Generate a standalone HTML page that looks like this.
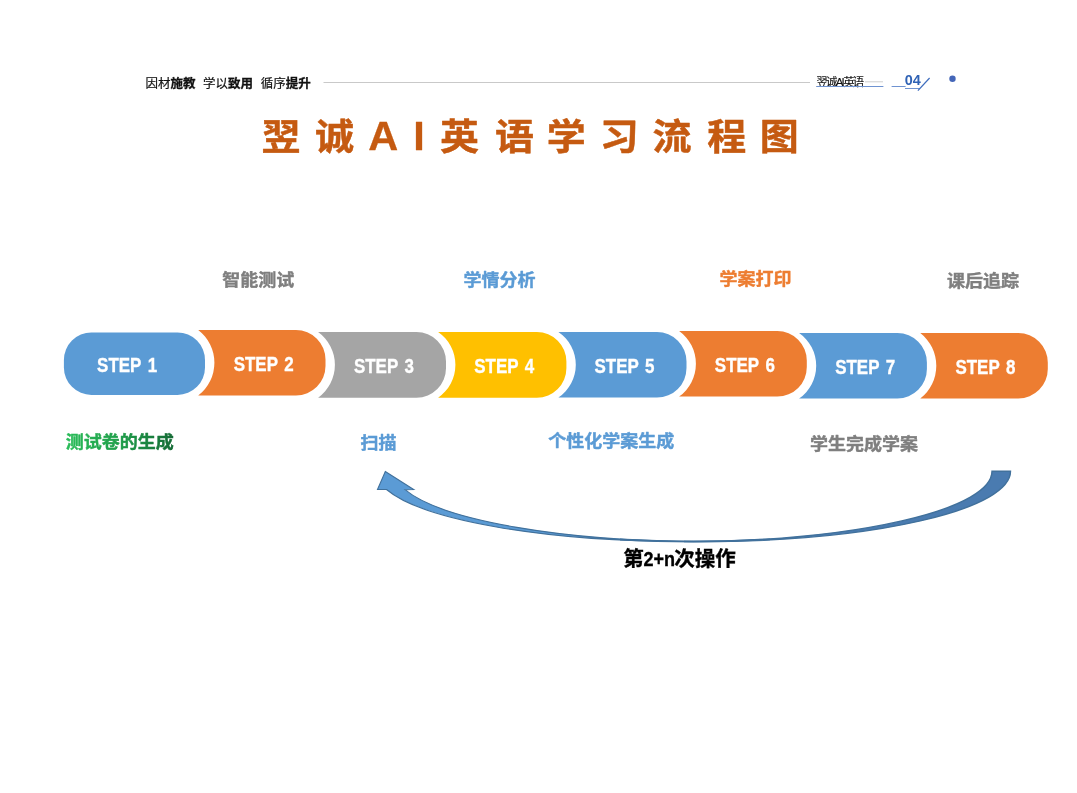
<!DOCTYPE html>
<html lang="zh-CN">
<head>
<meta charset="utf-8">
<title>翌诚AI英语学习流程图</title>
<style>
  html, body { margin: 0; padding: 0; background: #ffffff; }
  body { width: 1077px; height: 793px; overflow: hidden; position: relative;
         font-family: "Liberation Sans", "Noto Sans CJK SC", sans-serif; }
  svg { position: absolute; left: 0; top: 0; display: block; will-change: transform; }
  text { font-family: "Liberation Sans", "Noto Sans CJK SC", sans-serif; }
  .cjk { font-family: "Liberation Sans", "Noto Sans CJK SC", sans-serif; }
  .b { font-weight: 700; }
  .step { font-weight: 700; font-size: 20.2px; fill: #ffffff; word-spacing: 2.2px; }
  .lab { font-weight: 700; font-size: 18px; stroke-width: 0.45px; stroke-linejoin: round; }
</style>
</head>
<body>
<svg width="1077" height="793" viewBox="0 0 1077 793">
  <defs>
    <linearGradient id="gGreen" x1="0" y1="0" x2="1" y2="0">
      <stop offset="0" stop-color="#2bbd5a"/>
      <stop offset="0.5" stop-color="#1f9e4a"/>
      <stop offset="1" stop-color="#156b36"/>
    </linearGradient>
  </defs>

  <!-- header -->
  <text y="88.1" font-size="12.5" fill="#111111" stroke="#111111" stroke-width="0.2"><tspan x="145.6">因材</tspan><tspan class="b" stroke-width="0.3">施教</tspan> <tspan x="202.9">学以</tspan><tspan class="b" stroke-width="0.3">致用</tspan> <tspan x="260.8">循序</tspan><tspan class="b" stroke-width="0.3">提升</tspan></text>
  <rect x="323.5" y="82" width="486.5" height="1" fill="#c9c9c9"/>
  <text x="816.2" y="85.6" font-size="11.4" fill="#111111" stroke="#111111" stroke-width="0.15" letter-spacing="-1.65">翌诚AI英语</text>
  <rect x="865" y="81.3" width="18" height="1" fill="#cfcfcf"/>
  <rect x="816.4" y="86" width="67" height="1" fill="#6f93d1"/>
  <rect x="891.6" y="86" width="14" height="1" fill="#6f93d1"/>
  <text x="904.8" y="85.1" font-size="14.4" font-weight="700" fill="#2f62b5">04</text>
  <rect x="905" y="88" width="15" height="1" fill="#6f93d1"/>
  <line x1="917.9" y1="90.6" x2="929.6" y2="78" stroke="#3f6dbd" stroke-width="1.25"/>
  <circle cx="952.5" cy="78.7" r="3.2" fill="#4466b8"/>

  <!-- title -->
  <text transform="translate(0 150.2) scale(1 0.94)" y="0" font-size="39" font-weight="700" fill="#c55a11" stroke="#c55a11" stroke-width="0.5" stroke-linejoin="round"><tspan x="261.4 314.9">翌诚</tspan><tspan x="368.2" dy="-0.6" font-size="44.15" stroke-width="0.3" textLength="29.97" lengthAdjust="spacingAndGlyphs">A</tspan><tspan x="413.2" font-size="44.15" stroke-width="0.3" textLength="11.54" lengthAdjust="spacingAndGlyphs">I</tspan><tspan x="439.9 494.9 546.7 599.8 652.5 707.2 759.7" dy="0.6">英语学习流程图</tspan></text>

  <!-- top labels -->
  <text class="lab" transform="translate(222.3 286.1) scale(1 0.95)" fill="#7f7f7f" stroke="#7f7f7f">智能测试</text>
  <text class="lab" transform="translate(463.6 285.6) scale(1 0.95)" fill="#5b9bd5" stroke="#5b9bd5">学情分析</text>
  <text class="lab" transform="translate(719.6 285.1) scale(1 0.95)" fill="#ed7d31" stroke="#ed7d31">学案打印</text>
  <text class="lab" transform="translate(947.0 286.6) scale(1 0.95)" fill="#7f7f7f" stroke="#7f7f7f">课后追踪</text>

  <!-- step pills: first is a rounded rect, the rest have a concave left edge -->
  <rect x="63.9" y="332.4" width="141.1" height="62.5" rx="27.5" ry="27.5" fill="#5b9bd5"/>
  <path fill="#ed7d31" d="M198.2 330 L296.00 330 A29.5 29.5 0 0 1 325.5 359.50 L325.5 366.00 A29.5 29.5 0 0 1 296.00 395.5 L198.2 395.5 A41.20 41.20 0 0 0 198.2 330 Z"/>
  <path fill="#a5a5a5" d="M318.1 332 L416.50 332 A29.5 29.5 0 0 1 446.0 361.50 L446.0 368.20 A29.5 29.5 0 0 1 416.50 397.7 L318.1 397.7 A40.52 40.52 0 0 0 318.1 332 Z"/>
  <path fill="#ffc000" d="M438.1 332 L536.90 332 A29.5 29.5 0 0 1 566.4 361.50 L566.4 368.20 A29.5 29.5 0 0 1 536.90 397.7 L438.1 397.7 A39.84 39.84 0 0 0 438.1 332 Z"/>
  <path fill="#5b9bd5" d="M558.4 332 L657.00 332 A29.5 29.5 0 0 1 686.5 361.50 L686.5 368.10 A29.5 29.5 0 0 1 657.00 397.6 L558.4 397.6 A39.61 39.61 0 0 0 558.4 332 Z"/>
  <path fill="#ed7d31" d="M679.1 331 L777.30 331 A29.5 29.5 0 0 1 806.8 360.50 L806.8 367.10 A29.5 29.5 0 0 1 777.30 396.6 L679.1 396.6 A40.42 40.42 0 0 0 679.1 331 Z"/>
  <path fill="#5b9bd5" d="M799.1 333.1 L897.40 333.1 A29.5 29.5 0 0 1 926.9 362.60 L926.9 369.00 A29.5 29.5 0 0 1 897.40 398.5 L799.1 398.5 A39.82 39.82 0 0 0 799.1 333.1 Z"/>
  <path fill="#ed7d31" d="M920.3 333.1 L1018.30 333.1 A29.5 29.5 0 0 1 1047.8 362.60 L1047.8 369.00 A29.5 29.5 0 0 1 1018.30 398.5 L920.3 398.5 A41.42 41.42 0 0 0 920.3 333.1 Z"/>
  <g class="step" stroke="#ffffff" stroke-width="0.35">
    <text transform="translate(97.10 372.1) scale(0.84 1)">STEP 1</text>
    <text transform="translate(233.65 371.20) scale(0.84 1)">STEP 2</text>
    <text transform="translate(353.95 373.30) scale(0.84 1)">STEP 3</text>
    <text transform="translate(474.25 373.30) scale(0.84 1)">STEP 4</text>
    <text transform="translate(594.55 373.25) scale(0.84 1)">STEP 5</text>
    <text transform="translate(714.85 372.25) scale(0.84 1)">STEP 6</text>
    <text transform="translate(835.15 374.25) scale(0.84 1)">STEP 7</text>
    <text transform="translate(955.45 374.25) scale(0.84 1)">STEP 8</text>
  </g>

  <!-- bottom labels -->
  <text class="lab" transform="translate(65.7 448.4) scale(1 0.95)" fill="url(#gGreen)" stroke="url(#gGreen)">测试卷的生成</text>
  <text class="lab" transform="translate(360.5 449.1) scale(1 0.95)" fill="#5b9bd5" stroke="#5b9bd5">扫描</text>
  <text class="lab" transform="translate(548.3 447) scale(1 0.95)" fill="#5b9bd5" stroke="#5b9bd5">个性化学案生成</text>
  <text class="lab" transform="translate(810.0 450.2) scale(1 0.95)" fill="#7f7f7f" stroke="#7f7f7f">学生完成学案</text>

  <!-- curved arrow -->
  <path d="M1010.5 471.3 L992 471.3 A308 70.2 0 0 1 684 541.5 L702.5 541.5 A308 70.2 0 0 0 1010.5 471.3 Z" fill="#4a7bb0" stroke="#41719c" stroke-width="1.4"/>
  <path d="M385.3 471.5 L413.7 489.5 L405 489.7 A308 70.2 0 0 0 702.5 541.5 L684 541.5 A308 70.2 0 0 1 386.5 489.5 L377.5 489.5 Z" fill="#5b9bd5" stroke="#41719c" stroke-width="1.1" stroke-linejoin="miter"/>

  <path d="M620 539.49 A308 70.2 0 0 0 770 539.29" fill="none" stroke="#41719c" stroke-width="1.8"/>
  <text x="623.3" y="565.8" font-weight="700" fill="#000000" stroke="#000000" stroke-width="0.35" font-size="20.5">第<tspan x="643.5" textLength="31.6" lengthAdjust="spacingAndGlyphs">2+n</tspan><tspan x="674.3">次操作</tspan></text>
</svg>
</body>
</html>
